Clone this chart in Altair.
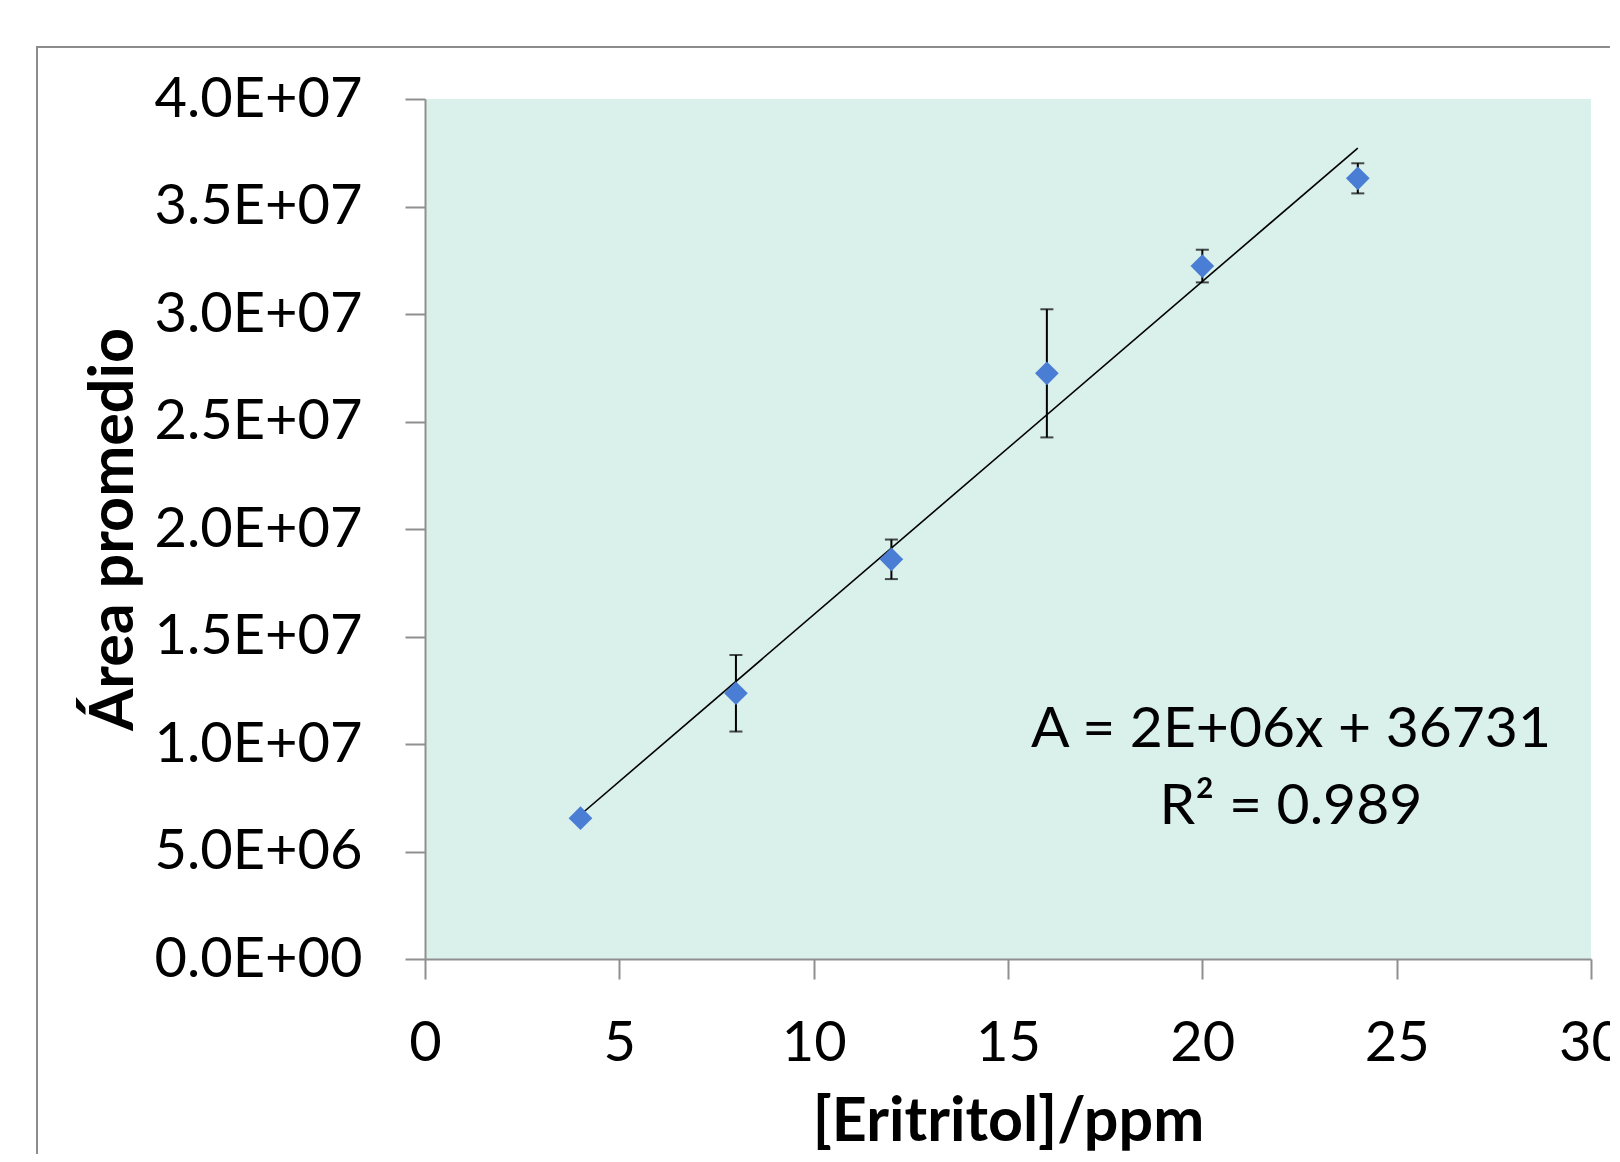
import altair as alt
import pandas as pd

# ---- data ----
conc = [4, 8, 12, 16, 20, 24]
area = [6.55e6, 1.236e7, 1.859e7, 2.724e7, 3.223e7, 3.631e7]
area_err = [0.0, 1.78e6, 0.92e6, 2.98e6, 0.76e6, 0.70e6]

x_ticks = [0, 5, 10, 15, 20, 25, 30]
y_ticks = [0, 5e6, 1e7, 1.5e7, 2e7, 2.5e7, 3e7, 3.5e7, 4e7]

eq_lines = ["A = 2E+06x + 36731", "R² = 0.989"]
eq_x = [22.28, 22.28]
eq_y = [9.87e6, 6.28e6]

x_title = "[Eritritol]/ppm"
y_title = "Área promedio"

FONT = "Lato"
GRAY = "#8f8f8f"
BLUE = "#4A7DD4"
BG = "#DAF0EB"

df = pd.DataFrame({"conc": conc, "area": area, "err": area_err})
df["lo"] = df["area"] - df["err"]
df["hi"] = df["area"] + df["err"]
eq_df = pd.DataFrame({"x": eq_x, "y": eq_y, "t": eq_lines})

W, H = 1166, 860

x_scale = alt.Scale(domain=[0, 30], nice=False, zero=True)
y_scale = alt.Scale(domain=[0, 4e7], nice=False, zero=True)

x_axis = alt.Axis(
    values=x_ticks, grid=False, title=x_title,
    domainColor=GRAY, domainWidth=2, tickColor=GRAY, tickWidth=2, tickSize=20,
    labelFont=FONT, labelFontSize=56, labelColor="black", labelPadding=37,
    labelFlush=False, labelOverlap=False, labelLimit=0,
    titleFont=FONT, titleFontSize=61, titleFontWeight="bold", titleColor="black",
    titleBaseline="alphabetic", titleY=181,
)
y_axis = alt.Axis(
    values=y_ticks, grid=False, title=y_title,
    labelExpr="replace(format(datum.value, '.1e'), 'e+', 'E+0')",
    domainColor=GRAY, domainWidth=2, tickColor=GRAY, tickWidth=2, tickSize=20,
    labelFont=FONT, labelFontSize=56, labelColor="black", labelPadding=43,
    labelFlush=False, labelOverlap=False, labelBaseline="middle", labelLimit=0,
    titleFont=FONT, titleFontSize=61, titleFontWeight="bold", titleColor="black",
    titleBaseline="alphabetic", titleX=-293, titleY=H / 2, titleAngle=-90,
)

base = alt.Chart(df)

frame = alt.Chart(pd.DataFrame({"a": [0]})).mark_rect(
    filled=False, stroke="#8c8c8c", strokeWidth=2
).encode(
    x=alt.value(-388), x2=alt.value(W + 200),
    y=alt.value(-52), y2=alt.value(H + 400),
)

trend = base.transform_regression(
    "conc", "area", extent=[4, 24]
).mark_line(color="black", strokeWidth=1.6).encode(
    x=alt.X("conc:Q", scale=x_scale, axis=x_axis),
    y=alt.Y("area:Q", scale=y_scale, axis=y_axis),
)

bars = base.mark_rule(color="black", strokeWidth=2).encode(
    x="conc:Q", y="lo:Q", y2="hi:Q"
)
cap_lo = base.mark_tick(color="black", orient="horizontal", size=13, thickness=2).encode(
    x="conc:Q", y="lo:Q"
)
cap_hi = base.mark_tick(color="black", orient="horizontal", size=13, thickness=2).encode(
    x="conc:Q", y="hi:Q"
)

points = base.mark_point(
    shape="diamond", filled=True, size=560, color=BLUE, opacity=1, strokeWidth=0
).encode(x="conc:Q", y="area:Q")

eq = alt.Chart(eq_df).mark_text(
    font=FONT, fontSize=57, color="black", align="center", baseline="alphabetic"
).encode(x="x:Q", y="y:Q", text="t:N")

chart = alt.layer(frame, trend, bars, cap_lo, cap_hi, points, eq).properties(
    width=W, height=H,
    autosize=alt.AutoSizeParams(type="none"),
    padding={"left": 417, "top": 91, "right": 19, "bottom": 195},
    background="white",
).configure_view(fill=BG, stroke=None)

chart.save("out.html", embed_options={"renderer": "svg", "actions": False})
